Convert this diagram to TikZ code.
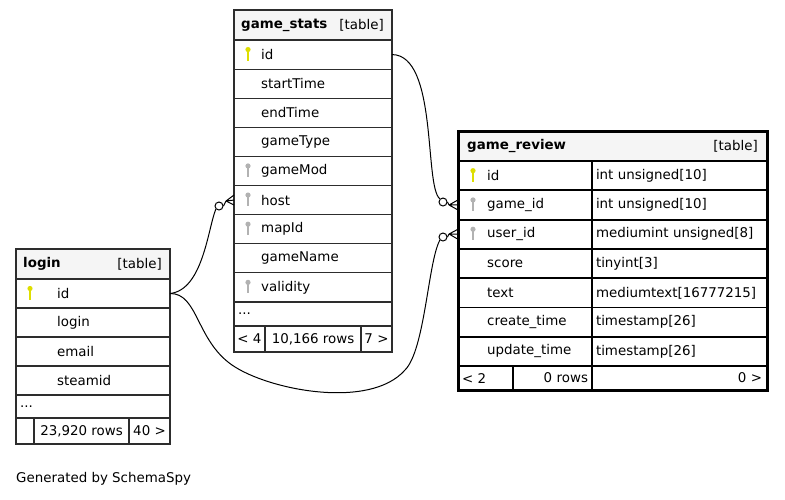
\documentclass[tikz,border=0pt]{standalone}
\usepackage{fontspec}
\setmainfont{DejaVu Sans}
\usepackage{xcolor}
\usepackage{tikz}
\usetikzlibrary{positioning}
\definecolor{hdrfill}{RGB}{245,245,245}
\definecolor{pkcol}{RGB}{222,222,0}
\definecolor{fkcol}{RGB}{178,178,178}
\definecolor{gridcol}{RGB}{45,45,45}
\tikzset{
  cell/.style={draw=gridcol, line width=1.2pt, anchor=north west, inner sep=0pt, outer sep=0pt},
  hdr/.style={cell, fill=hdrfill, minimum height=30pt},
  gsrow/.style={cell, minimum width=158pt, minimum height=29.1pt},
  lgrow/.style={cell, minimum width=154pt, minimum height=29pt},
  grcell/.style={cell, draw=black, line width=1.8pt},
  grname/.style={grcell, minimum width=134pt, minimum height=29.3pt},
  grtype/.style={grcell, minimum height=29.3pt, text width=167pt, inner xsep=4pt, align=left},
  fld/.style={inner sep=0pt, anchor=west},
  conn/.style={line width=1pt},
  zero/.style={circle, draw, fill=white, line width=1pt, minimum size=8pt, inner sep=0pt},
  pics/keyicon/.style={code={
    \fill[#1] (0,-5) circle (2.6);
    \draw[#1, line width=1.7pt] (0,-5) -- (0,6);
  }}
}
\begin{document}
\begin{tikzpicture}[x=1pt, y=-1pt, font=\fontsize{13.4}{16}\selectfont]
\useasboundingbox (0,0) rectangle (785,499);

\node[hdr, minimum width=158pt] (gs-head) at (234,10) {};
\node[fld, right=7pt of gs-head.west] (gs-head-t) {\textbf{game\_stats}};
\node[fld, left=8pt of gs-head.east] (gs-head-k) {[table]};
\node[gsrow] (gs-id) at (gs-head.south west) {};
\node[fld, right=27pt of gs-id.west] (gs-id-t) {id};
\pic at ([xshift=14pt]gs-id.west) {keyicon=pkcol};
\node[gsrow] (gs-start) at (gs-id.south west) {};
\node[fld, right=27pt of gs-start.west] (gs-start-t) {startTime};
\node[gsrow] (gs-end) at (gs-start.south west) {};
\node[fld, right=27pt of gs-end.west] (gs-end-t) {endTime};
\node[gsrow] (gs-type) at (gs-end.south west) {};
\node[fld, right=27pt of gs-type.west] (gs-type-t) {gameType};
\node[gsrow] (gs-mod) at (gs-type.south west) {};
\node[fld, right=27pt of gs-mod.west] (gs-mod-t) {gameMod};
\pic at ([xshift=14pt]gs-mod.west) {keyicon=fkcol};
\node[gsrow] (gs-host) at (gs-mod.south west) {};
\node[fld, right=27pt of gs-host.west] (gs-host-t) {host};
\pic at ([xshift=14pt]gs-host.west) {keyicon=fkcol};
\node[gsrow] (gs-map) at (gs-host.south west) {};
\node[fld, right=27pt of gs-map.west] (gs-map-t) {mapId};
\pic at ([xshift=14pt]gs-map.west) {keyicon=fkcol};
\node[gsrow] (gs-name) at (gs-map.south west) {};
\node[fld, right=27pt of gs-name.west] (gs-name-t) {gameName};
\node[gsrow] (gs-valid) at (gs-name.south west) {};
\node[fld, right=27pt of gs-valid.west] (gs-valid-t) {validity};
\pic at ([xshift=14pt]gs-valid.west) {keyicon=fkcol};
\node[cell, minimum width=158pt, minimum height=24pt] (gs-more) at (gs-valid.south west) {};
\node[fld, right=4pt of gs-more.west] (gs-more-t) {...};
\node[cell, minimum width=31pt, minimum height=26pt] (gs-f1) at (gs-more.south west) {< 4};
\node[cell, minimum width=96pt, minimum height=26pt] (gs-f2) at (gs-f1.north east) {10,166 rows};
\node[cell, minimum width=31pt, minimum height=26pt] (gs-f3) at (gs-f2.north east) {7 >};

\node[hdr, minimum width=154pt] (lg-head) at (16,249) {};
\node[fld, right=7pt of lg-head.west] (lg-head-t) {\textbf{login}};
\node[fld, left=8pt of lg-head.east] (lg-head-k) {[table]};
\node[lgrow] (lg-id) at (lg-head.south west) {};
\node[fld, right=41pt of lg-id.west] (lg-id-t) {id};
\pic at ([xshift=14pt]lg-id.west) {keyicon=pkcol};
\node[lgrow] (lg-login) at (lg-id.south west) {};
\node[fld, right=41pt of lg-login.west] (lg-login-t) {login};
\node[lgrow] (lg-mail) at (lg-login.south west) {};
\node[fld, right=41pt of lg-mail.west] (lg-mail-t) {email};
\node[lgrow] (lg-steam) at (lg-mail.south west) {};
\node[fld, right=41pt of lg-steam.west] (lg-steam-t) {steamid};
\node[cell, minimum width=154pt, minimum height=23pt] (lg-more) at (lg-steam.south west) {};
\node[fld, right=4pt of lg-more.west] (lg-more-t) {...};
\node[cell, minimum width=18pt, minimum height=26pt] (lg-f1) at (lg-more.south west) {};
\node[cell, minimum width=95pt, minimum height=26pt] (lg-f2) at (lg-f1.north east) {23,920 rows};
\node[cell, minimum width=41pt, minimum height=26pt] (lg-f3) at (lg-f2.north east) {40 >};

\node[grcell, fill=hdrfill, minimum width=309pt, minimum height=30pt] (gr-head) at (458,131) {};
\node[fld, right=9pt of gr-head.west] (gr-head-t) {\textbf{game\_review}};
\node[fld, left=9pt of gr-head.east] (gr-head-k) {[table]};
\node[grname] (gr-id-n) at (gr-head.south west) {};
\node[grtype] (gr-id-ty) at (gr-id-n.north east) {int unsigned[10]};
\node[fld, right=29pt of gr-id-n.west] (gr-id-t) {id};
\pic at ([xshift=15pt]gr-id-n.west) {keyicon=pkcol};
\node[grname] (gr-gid-n) at (gr-id-n.south west) {};
\node[grtype] (gr-gid-ty) at (gr-gid-n.north east) {int unsigned[10]};
\node[fld, right=29pt of gr-gid-n.west] (gr-gid-t) {game\_id};
\pic at ([xshift=15pt]gr-gid-n.west) {keyicon=fkcol};
\node[grname] (gr-uid-n) at (gr-gid-n.south west) {};
\node[grtype] (gr-uid-ty) at (gr-uid-n.north east) {mediumint unsigned[8]};
\node[fld, right=29pt of gr-uid-n.west] (gr-uid-t) {user\_id};
\pic at ([xshift=15pt]gr-uid-n.west) {keyicon=fkcol};
\node[grname] (gr-score-n) at (gr-uid-n.south west) {};
\node[grtype] (gr-score-ty) at (gr-score-n.north east) {tinyint[3]};
\node[fld, right=29pt of gr-score-n.west] (gr-score-t) {score};
\node[grname] (gr-text-n) at (gr-score-n.south west) {};
\node[grtype] (gr-text-ty) at (gr-text-n.north east) {mediumtext[16777215]};
\node[fld, right=29pt of gr-text-n.west] (gr-text-t) {text};
\node[grname] (gr-ctime-n) at (gr-text-n.south west) {};
\node[grtype] (gr-ctime-ty) at (gr-ctime-n.north east) {timestamp[26]};
\node[fld, right=29pt of gr-ctime-n.west] (gr-ctime-t) {create\_time};
\node[grname] (gr-utime-n) at (gr-ctime-n.south west) {};
\node[grtype] (gr-utime-ty) at (gr-utime-n.north east) {timestamp[26]};
\node[fld, right=29pt of gr-utime-n.west] (gr-utime-t) {update\_time};
\node[grcell, minimum width=55pt, minimum height=24pt, text width=47pt, inner xsep=4pt, align=left] (gr-f1) at (gr-utime-n.south west) {< 2};
\node[grcell, minimum width=79pt, minimum height=24pt, text width=71pt, inner xsep=4pt, align=right] (gr-f2) at (gr-f1.north east) {0 rows};
\node[grcell, minimum width=175pt, minimum height=24pt, text width=165pt, inner xsep=5pt, align=right] (gr-f3) at (gr-f2.north east) {0 >};
\draw[line width=3pt] (gr-head.north west) rectangle (gr-f3.south east);

\node[zero] (z-gid) at (443,202) {};
\node[zero] (z-uid) at (443,237) {};
\node[zero] (z-host) at (219,206) {};
\coordinate (cf-gid) at (449,205);
\coordinate (cf-uid) at (449,234);
\coordinate (cf-host) at (226,201);

\draw[conn] (gs-id.east) .. controls (438,55) and (424,186) .. (z-gid.north west);
\draw[conn] (lg-id.east) .. controls (203,290) and (208,228) .. (z-host.south west);
\draw[conn] (lg-id.east) .. controls (198,293) and (196,340) .. (232,365)
  .. controls (268,390) and (370,410) .. (405,370)
  .. controls (425,350) and (428,262) .. (z-uid.south west);

\draw[conn] (z-gid.east) -- (cf-gid);
\draw[conn] (cf-gid) -- ([yshift=5pt]gr-gid-n.west) (cf-gid) -- (gr-gid-n.west) (cf-gid) -- ([yshift=-5pt]gr-gid-n.west);
\draw[conn] (z-uid.east) -- (cf-uid);
\draw[conn] (cf-uid) -- ([yshift=5pt]gr-uid-n.west) (cf-uid) -- (gr-uid-n.west) (cf-uid) -- ([yshift=-5pt]gr-uid-n.west);
\draw[conn] (z-host.east) -- (cf-host);
\draw[conn] (cf-host) -- ([yshift=5pt]gs-host.west) (cf-host) -- (gs-host.west) (cf-host) -- ([yshift=-5pt]gs-host.west);

\node[fld] (gen) at (16,479) {Generated by SchemaSpy};
\end{tikzpicture}
\end{document}
